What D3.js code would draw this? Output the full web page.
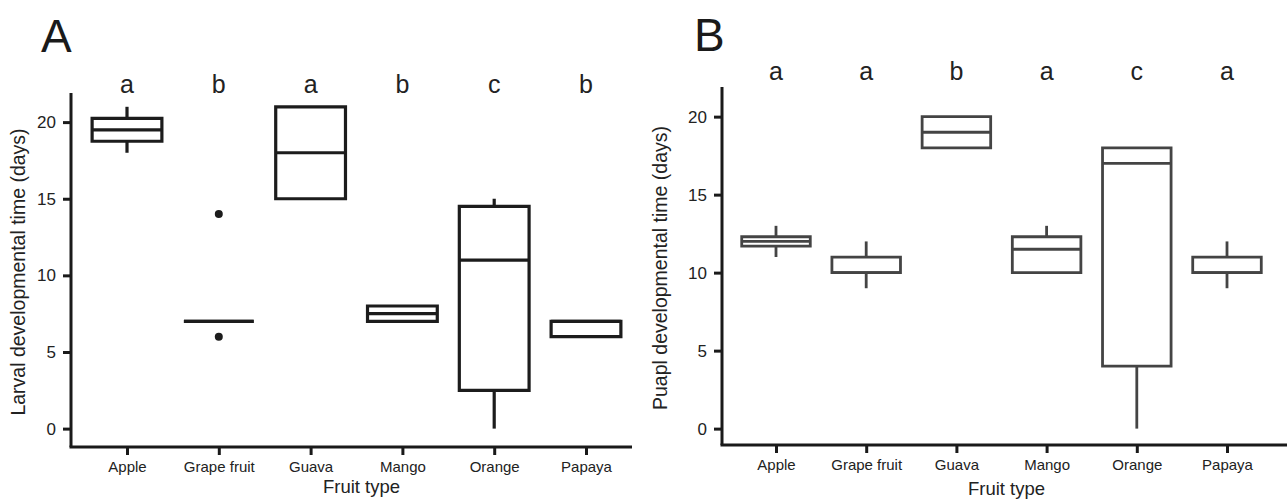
<!DOCTYPE html>
<html>
<head>
<meta charset="utf-8">
<script src="https://cdn.jsdelivr.net/npm/d3@7"></script>
<style>
body { margin: 0; background: #fff; }
svg { font-family: "Liberation Sans", Arial, sans-serif; }
</style>
</head>
<body>
<svg id="chart" width="1287" height="501"></svg>
<script>
var fruits = ["Apple", "Grape fruit", "Guava", "Mango", "Orange", "Papaya"]
var yTicks = [0, 5, 10, 15, 20]

// panel A - larval time (days)
var larvalMin = [18, 7, 15, 7, 0, 6]
var larvalQ1 = [18.75, 7, 15, 7, 2.5, 6]
var larvalMed = [19.5, 7, 18, 7.5, 11, 7]
var larvalQ3 = [20.25, 7, 21, 8, 14.5, 7]
var larvalMax = [21, 7, 21, 8, 15, 7]
var larvalOut = [[], [14, 6], [], [], [], []]
var larvalLetters = ["a", "b", "a", "b", "c", "b"]

// panel B - pupal time (days)
var pupalMin = [11, 9, 18, 10, 0, 9]
var pupalQ1 = [11.7, 10, 18, 10, 4, 10]
var pupalMed = [12, 10, 19, 11.5, 17, 10]
var pupalQ3 = [12.3, 11, 20, 12.3, 18, 11]
var pupalMax = [13, 12, 20, 13, 18, 12]
var pupalOut = [[], [], [], [], [], []]
var pupalLetters = ["a", "a", "b", "a", "c", "a"]

var svg = d3.select("#chart")

function drawPanel(cfg) {
   var g = svg.append("g")

   var x = d3.scalePoint()
      .domain(fruits)
      .range(cfg.xRange)
   var y = d3.scaleLinear()
      .domain(cfg.yDomain)
      .range([cfg.bottom, cfg.top])

   var boxW = x.step() * 0.76

   var rows = fruits.map(function(f, i) {
      return {name: f, min: cfg.min[i], q1: cfg.q1[i], med: cfg.med[i],
              q3: cfg.q3[i], max: cfg.max[i], out: cfg.out[i], letter: cfg.letters[i]}
   })

   // y axis
   var yAxis = g.append("g")
      .attr("transform", "translate(" + cfg.left + ",0)")
      .call(d3.axisLeft(y).tickValues(yTicks).tickSize(8).tickSizeOuter(0).tickPadding(7))
   yAxis.select(".domain").attr("d", "M0," + cfg.top + "V" + cfg.bottom)
   yAxis.selectAll("line").attr("stroke", "#1a1a1a").attr("stroke-width", 3)
   yAxis.select(".domain").attr("stroke", "#1a1a1a").attr("stroke-width", 3)
   yAxis.selectAll("text").style("font-size", "17px").attr("fill", "#222")

   // x axis
   var xAxis = g.append("g")
      .attr("transform", "translate(0," + cfg.bottom + ")")
      .call(d3.axisBottom(x).tickSize(8).tickSizeOuter(0).tickPadding(6))
   xAxis.select(".domain").attr("d", "M" + (cfg.left - 1.5) + ",0H" + cfg.right)
   xAxis.selectAll("line").attr("stroke", "#1a1a1a").attr("stroke-width", 3)
   xAxis.select(".domain").attr("stroke", "#1a1a1a").attr("stroke-width", 3)
   xAxis.selectAll("text").style("font-size", "15px").attr("fill", "#222")

   var boxes = g.selectAll(".box")
      .data(rows)
      .enter()
      .append("g")
      .attr("class", "box")
      .attr("fill", "none")
      .attr("stroke", cfg.color)
      .attr("stroke-width", cfg.sw)

   // whiskers (only where they stick out of the box)
   boxes.filter(function(d) { return d.max > d.q3 })
      .append("line")
      .attr("x1", function(d) { return x(d.name) })
      .attr("x2", function(d) { return x(d.name) })
      .attr("y1", function(d) { return y(d.max) })
      .attr("y2", function(d) { return y(d.q3) })
   boxes.filter(function(d) { return d.min < d.q1 })
      .append("line")
      .attr("x1", function(d) { return x(d.name) })
      .attr("x2", function(d) { return x(d.name) })
      .attr("y1", function(d) { return y(d.q1) })
      .attr("y2", function(d) { return y(d.min) })

   boxes.append("path")
      .attr("d", function(d) {
         var x0 = x(d.name) - boxW / 2, x1 = x(d.name) + boxW / 2
         return "M" + x0 + "," + y(d.q3) + "H" + x1 + "V" + y(d.q1) + "H" + x0 + "Z"
      })
      .attr("stroke-linejoin", "miter")

   boxes.append("line")
      .attr("x1", function(d) { return x(d.name) - boxW / 2 })
      .attr("x2", function(d) { return x(d.name) + boxW / 2 })
      .attr("y1", function(d) { return y(d.med) })
      .attr("y2", function(d) { return y(d.med) })

   // outliers
   boxes.selectAll("circle")
      .data(function(d) { return d.out.map(function(v) { return {name: d.name, v: v} }) })
      .enter()
      .append("circle")
      .attr("cx", function(d) { return x(d.name) })
      .attr("cy", function(d) { return y(d.v) })
      .attr("r", 4)
      .attr("fill", cfg.color)
      .attr("stroke", "none")

   // significance letters
   g.selectAll(".letter")
      .data(rows)
      .enter()
      .append("text")
      .attr("class", "letter")
      .attr("x", function(d) { return x(d.name) })
      .attr("y", cfg.letterY)
      .attr("text-anchor", "middle")
      .style("font-size", "25px")
      .attr("fill", "#222")
      .text(function(d) { return d.letter })

   // axis titles
   g.append("text")
      .attr("transform", "translate(" + cfg.yTitleX + "," + ((cfg.top + cfg.bottom) / 2 + 2) + ") rotate(-90)")
      .attr("text-anchor", "middle")
      .style("font-size", "19.5px")
      .attr("fill", "#222")
      .text(cfg.yTitle)

   g.append("text")
      .attr("x", (cfg.xRange[0] + cfg.xRange[1]) / 2 + 5)
      .attr("y", cfg.xTitleY)
      .attr("text-anchor", "middle")
      .style("font-size", "18.5px")
      .attr("fill", "#222")
      .text("Fruit type")

   // panel letter
   g.append("text")
      .attr("x", cfg.labelX)
      .attr("y", cfg.labelY)
      .style("font-size", "46px")
      .attr("fill", "#1a1a1a")
      .text(cfg.label)
}

drawPanel({
   label: "A", labelX: 41, labelY: 52,
   left: 71, right: 632, top: 93, bottom: 447,
   yDomain: [-1.2, 21.9], xRange: [127, 586],
   min: larvalMin, q1: larvalQ1, med: larvalMed, q3: larvalQ3, max: larvalMax, out: larvalOut,
   letters: larvalLetters, letterY: 93,
   color: "#1c1c1c", sw: 3.2,
   yTitle: "Larval developmental time (days)", yTitleX: 25, xTitleY: 493
})

drawPanel({
   label: "B", labelX: 694, labelY: 51,
   left: 722, right: 1287, top: 87, bottom: 445,
   yDomain: [-1.05, 21.9], xRange: [776, 1227],
   min: pupalMin, q1: pupalQ1, med: pupalMed, q3: pupalQ3, max: pupalMax, out: pupalOut,
   letters: pupalLetters, letterY: 80,
   color: "#444", sw: 2.8,
   yTitle: "Puapl developmental time (days)", yTitleX: 667, xTitleY: 495
})
</script>
</body>
</html>
